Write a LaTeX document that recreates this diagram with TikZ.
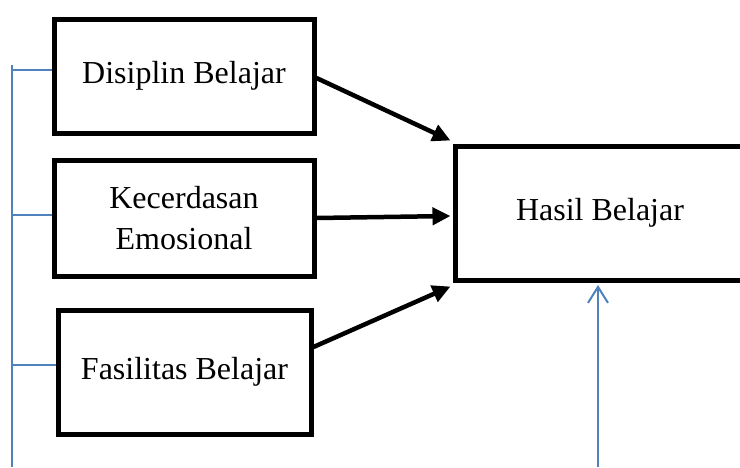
\documentclass[tikz,border=0pt]{standalone}
\usepackage{fontspec}
\setmainfont{Liberation Serif}
\usetikzlibrary{arrows.meta}
\definecolor{lineblue}{HTML}{4F81BD}
\begin{document}
\begin{tikzpicture}[x=1pt,y=-1pt,
  box/.style={draw=black,line width=5pt,fill=white,inner sep=0pt,
    font=\fontsize{32}{41}\selectfont,align=center},
  bigarrow/.style={line width=4.5pt,-{Triangle[length=18pt,width=17pt]}},
  bluearrow/.style={draw=lineblue,line width=2pt,-{Straight Barb[length=16pt,width=20pt]}},
  blueline/.style={draw=lineblue,line width=1.8pt}]
\useasboundingbox (0,0) rectangle (740,467);
\begin{scope}
\clip (0,0) rectangle (740,467);
\node[box,minimum width=260pt,minimum height=114pt] (d) at (184,76) {Disiplin Belajar};
\node[box,minimum width=260pt,minimum height=116pt] (k) at (184,218) {Kecerdasan\\Emosional};
\node[box,minimum width=253pt,minimum height=124pt] (f) at (184.5,372) {Fasilitas Belajar};
\node[box,minimum width=290pt,minimum height=134pt] (h) at (600,213) {Hasil Belajar};

\draw[bigarrow] ([yshift=-2pt]d.east) -- ([xshift=-2pt,yshift=3pt]h.north west);
\draw[bigarrow] (k.east) -- ([xshift=-2pt,yshift=-3pt]h.west);
\draw[bigarrow] ([yshift=25pt]f.east) -- ([xshift=-2pt,yshift=-4pt]h.south west);

\coordinate (top) at (12,65);
\coordinate (bot) at (12,467);
\coordinate (t1) at (12,70);
\coordinate (t2) at (12,215);
\coordinate (t3) at (12,365);
\draw[blueline] (top) -- (bot);
\draw[blueline] (t1) -- (t1 -| d.west);
\draw[blueline] (t2) -- (t2 -| k.west);
\draw[blueline] (t3) -- (t3 -| f.west);

\coordinate (b) at (598,467);
\draw[bluearrow] (b) -- ([yshift=-2.5pt]b |- h.south);
\end{scope}
\end{tikzpicture}
\end{document}
